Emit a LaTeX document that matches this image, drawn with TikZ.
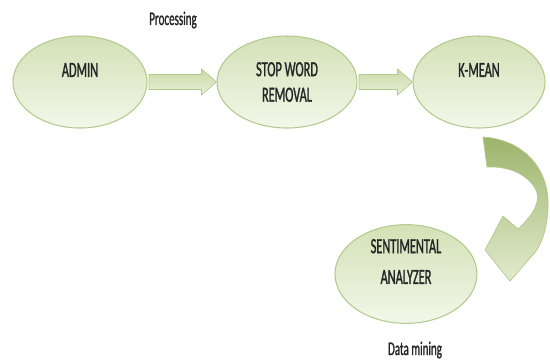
\documentclass[tikz,border=0pt]{standalone}
\usepackage{fontspec}
\newfontfamily\diagfont[FakeStretch=0.57,FakeBold=1.2]{Carlito}
\usepackage{tikz}
\usetikzlibrary{shapes.geometric}
\usetikzlibrary{calc}

\definecolor{ovaltop}{HTML}{D3E1B6}
\definecolor{ovalbottom}{HTML}{F3F7EA}
\definecolor{ovalline}{HTML}{B4C98C}
\definecolor{arrowtop}{HTML}{CADBA6}
\definecolor{arrowbottom}{HTML}{E8F0D8}
\definecolor{bendtop}{HTML}{9CB46C}
\definecolor{bendbottom}{HTML}{E2EBCD}
\definecolor{inktext}{HTML}{262626}

\tikzset{
  stage/.style={ellipse, draw=ovalline, line width=0.6pt, top color=ovaltop, bottom color=ovalbottom,
    text=inktext, font=\diagfont\fontsize{12.3}{14.5}\selectfont, align=center, inner sep=0pt},
  flowarrow/.style={draw=ovalline, line width=0.4pt, top color=arrowtop, bottom color=arrowbottom},
  caption/.style={text=inktext, font=\diagfont\fontsize{11}{13}\selectfont}
}

% block arrow from one stage to the next
\newcommand{\blockarrow}[2]{%
  \draw[flowarrow] ($(#1.east)+(0.03,0.15)$) -- ($(#2.west)+(-0.3,0.15)$) -- ($(#2.west)+(-0.3,0.26)$)
    -- (#2.west) -- ($(#2.west)+(-0.3,-0.26)$) -- ($(#2.west)+(-0.3,-0.15)$) -- ($(#1.east)+(0.03,-0.15)$) -- cycle;}

\begin{document}
\begin{tikzpicture}
		\useasboundingbox (0,0) rectangle (11,-7.26);
		\node[caption] (proc) at (3.46,-0.4) {Processing};
		\node[stage, minimum width=2.68cm, minimum height=1.84cm, text depth=0.48cm] (admin) at (1.6,-1.64) {ADMIN};
		\node[stage, minimum width=2.8cm, minimum height=1.84cm] (stop) at (5.74,-1.64) {STOP WORD\\REMOVAL};
		\node[stage, minimum width=2.64cm, minimum height=1.84cm, text depth=0.48cm] (kmean) at (9.58,-1.64) {K-MEAN};
		\node[stage, minimum width=2.84cm, minimum height=1.96cm, text depth=0.5cm] (senti) at (8.12,-5.48) {SENTIMENTAL\\[3pt]ANALYZER};
		\node[caption] (mining) at (8.3,-7.0) {Data mining};
		
		\blockarrow{admin}{stop}
		\blockarrow{stop}{kmean}
		
		% bent arrow down to the analyzer
		\draw[draw=ovalline, line width=0.4pt, top color=bendtop, bottom color=bendbottom]
			(9.66,-2.74) .. controls (10.5,-2.8) and (11.0,-3.4) .. (10.96,-4.16)
			.. controls (10.94,-4.6) and (10.82,-4.96) .. (10.6,-5.16)
			-- (10.2,-5.62) -- (9.7,-5.0) -- (10.06,-4.32) -- (10.36,-4.58)
			.. controls (10.68,-4.28) and (10.84,-4.0) .. (10.7,-3.76)
			.. controls (10.5,-3.44) and (10.1,-3.32) .. (9.74,-3.34) -- cycle;
		
\end{tikzpicture}
\end{document}
